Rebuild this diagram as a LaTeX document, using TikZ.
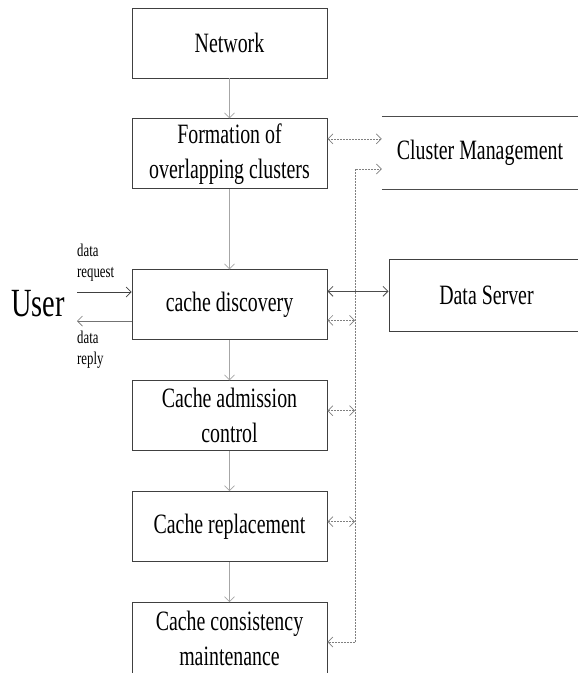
\documentclass[tikz,border=0pt]{standalone}
\usepackage{fontspec}
\setmainfont{Liberation Serif}[FakeStretch=0.71]
\usepackage{tikz}
\usetikzlibrary{positioning,arrows.meta}

\begin{document}
\begin{tikzpicture}[x=1pt,y=-1pt,node distance=40pt]
  \tikzset{
    stagebox/.style={draw=black!75,line width=0.9pt,minimum width=195pt,
      minimum height=70pt,inner sep=0pt,align=center,
      font=\fontsize{28}{35}\selectfont},
    flowarrow/.style={draw=black!35,line width=0.7pt,
      -{Straight Barb[length=5pt,width=10pt]}},
    dotline/.style={draw=black!50,dash pattern=on 2pt off 1pt,line width=0.7pt,
      {Straight Barb[length=5pt,width=10pt]}-{Straight Barb[length=5pt,width=10pt]}},
    solidlink/.style={draw=black!70,line width=0.8pt,
      {Straight Barb[length=5pt,width=10pt]}-{Straight Barb[length=5pt,width=10pt]}},
    smalltext/.style={font=\fontsize{18}{21}\selectfont,align=left,inner sep=0pt}
  }
  \useasboundingbox (0,0) rectangle (578,673);

  % main chain
  \node[stagebox] (net) at (229.5,43) {Network};
  \node[stagebox,below=of net] (form) {Formation of\\overlapping clusters};
  \node[stagebox,below=80pt of form] (discov) {cache discovery};
  \node[stagebox,below=of discov] (admit) {Cache admission\\control};
  \node[stagebox,below=of admit] (repl) {Cache replacement};
  \node[stagebox,below=of repl,minimum height=72pt] (consist) {Cache consistency\\maintenance};

  \draw[flowarrow] (net) -- (form);
  \draw[flowarrow] (form) -- (discov);
  \draw[flowarrow] (discov) -- (admit);
  \draw[flowarrow] (admit) -- (repl);
  \draw[flowarrow] (repl) -- (consist);

  % right side
  \node[minimum width=196pt,minimum height=72pt,inner sep=0pt,
    font=\fontsize{28}{35}\selectfont] (cluster) at (480,153) {Cluster Management};
  \draw[black!70,line width=0.9pt] (cluster.north west) -- (cluster.north east);
  \draw[black!70,line width=0.9pt] (cluster.south west) -- (cluster.south east);
  \node[stagebox,minimum height=72pt] (dserver) at (486.5,295) {Data Server};

  \coordinate (bustop) at (355,169);
  \coordinate (busbot) at (355,642);
  \draw[dotline,-{Straight Barb[length=5pt,width=10pt]}] (busbot) -- (bustop) -- (bustop -| cluster.west);
  \draw[dotline,-{Straight Barb[length=5pt,width=10pt]}] (busbot) -- (busbot -| consist.east);
  \draw[dotline] ([yshift=15pt]form.east) -- ([yshift=15pt]form.east -| cluster.west);
  \draw[dotline] ([yshift=-15.5pt]discov.east) -- ([yshift=-15.5pt]discov.east -| bustop);
  \draw[dotline] ([yshift=5pt]admit.east) -- ([yshift=5pt]admit.east -| bustop);
  \draw[dotline] ([yshift=5pt]repl.east) -- ([yshift=5pt]repl.east -| bustop);
  \draw[solidlink] ([yshift=13.5pt]discov.east) -- ([yshift=13.5pt]discov.east -| dserver.west);

  % user side
  \node[font=\fontsize{40}{42}\selectfont,inner sep=0pt] (user) at (38,304) {User};
  \coordinate (reqin) at (77,292);
  \coordinate (repout) at (77,321);
  \draw[draw=black!75,line width=0.7pt,-{Straight Barb[length=5pt,width=10pt]}] (reqin) -- (reqin -| discov.west);
  \draw[draw=black!55,line width=0.7pt,-{Straight Barb[length=5pt,width=10pt]}] (repout -| discov.west) -- (repout);
  \node[smalltext,anchor=west] (reqlbl) at (77,263) {data\\request};
  \node[smalltext,anchor=west] (replbl) at (77,350) {data\\reply};
\end{tikzpicture}
\end{document}
